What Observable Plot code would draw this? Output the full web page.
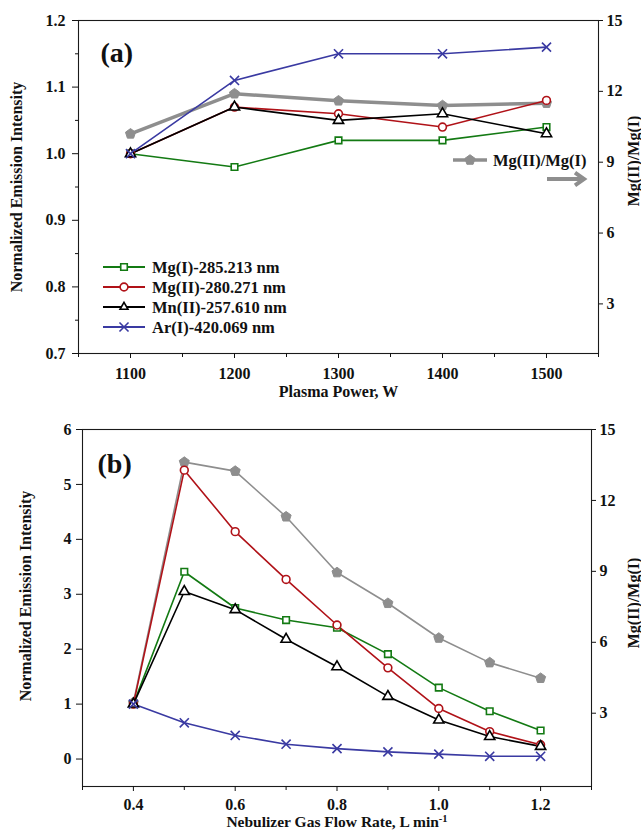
<!DOCTYPE html>
<html><head><meta charset="utf-8">
<script src="https://cdn.jsdelivr.net/npm/d3@7"></script>
<script src="https://cdn.jsdelivr.net/npm/@observablehq/plot@0.6"></script>
<style>
body{margin:0;background:#fff;}
#chart{width:641px;}
#chart svg{display:block;}
</style>
</head><body><div id="chart"></div>
<script>
// ---------- Panel (a): Plasma power ----------
const powers = [1100, 1200, 1300, 1400, 1500];
const aMgI  = [1.00, 0.98, 1.02, 1.02, 1.04];
const aMgII = [1.00, 1.07, 1.06, 1.04, 1.08];
const aMnII = [1.00, 1.07, 1.05, 1.06, 1.03];
const aArI  = [1.00, 1.11, 1.15, 1.15, 1.16];
const aRatio = [10.2, 11.9, 11.6, 11.4, 11.5];
const aXTicks = [1100, 1200, 1300, 1400, 1500];
const aXMinor = [1050, 1150, 1250, 1350, 1450, 1550];
const aYTicks = [0.7, 0.8, 0.9, 1.0, 1.1, 1.2];
const aYMinor = [0.75, 0.85, 0.95, 1.05, 1.15];
const aRTicks = [3, 6, 9, 12, 15];

// ---------- Panel (b): Nebulizer gas flow ----------
const flows = [0.4, 0.5, 0.6, 0.7, 0.8, 0.9, 1.0, 1.1, 1.2];
const bMgI  = [1.00, 3.41, 2.75, 2.53, 2.39, 1.91, 1.30, 0.87, 0.52];
const bMgII = [1.00, 5.26, 4.14, 3.27, 2.44, 1.66, 0.92, 0.50, 0.26];
const bMnII = [1.00, 3.05, 2.72, 2.18, 1.68, 1.14, 0.71, 0.41, 0.23];
const bArI  = [1.00, 0.66, 0.43, 0.27, 0.19, 0.13, 0.09, 0.05, 0.05];
const bRatio = [3.45, 13.62, 13.24, 11.31, 8.95, 7.65, 6.18, 5.14, 4.48];
const bXTicks = [0.4, 0.6, 0.8, 1.0, 1.2];
const bXMinor = [0.3, 0.5, 0.7, 0.9, 1.1, 1.3];
const bYTicks = [0, 1, 2, 3, 4, 5, 6];
const bRTicks = [3, 6, 9, 12, 15];

const seriesNames = ["Mg(I)-285.213 nm", "Mg(II)-280.271 nm", "Mn(II)-257.610 nm", "Ar(I)-420.069 nm"];
const ratioName = "Mg(II)/Mg(I)";
const COLORS = ["#137a13", "#b01218", "#000000", "#3a3aa2"];
const GRAY = "#8e8e8e";
const SYMBOLS = ["square", "circle", "triangle", "times"];
const RADII = [3.7, 3.9, 3.8, 4.2];
const FONT = '"Liberation Serif","Times New Roman",serif';

const pentagon = {
  draw(ctx, size) {
    const R = Math.sqrt(size / 2.378);
    for (let i = 0; i < 5; i++) {
      const a = -Math.PI / 2 + i * 2 * Math.PI / 5;
      const px = R * Math.cos(a), py = R * Math.sin(a);
      if (i === 0) ctx.moveTo(px, py); else ctx.lineTo(px, py);
    }
    ctx.closePath();
  }
};

function makePanel(cfg) {
  const L = cfg.yDomain, R = cfg.rDomain;
  const toLeft = v => L[0] + (v - R[0]) * (L[1] - L[0]) / (R[1] - R[0]);
  const fromLeft = v => R[0] + (v - L[0]) * (R[1] - R[0]) / (L[1] - L[0]);
  const rows = cfg.series.map(arr => cfg.xs.map((x, i) => ({x, y: arr[i]})));
  const ratioRows = cfg.xs.map((x, i) => ({x, y: toLeft(cfg.ratio[i])}));

  const marks = [
    Plot.frame({stroke: "#1a1a1a", strokeWidth: 1.1}),
    Plot.axisX(cfg.xTicks, {tickSize: 5, tickPadding: cfg.xPad, tickFormat: cfg.xFormat, label: null}),
    Plot.axisX(cfg.xMinor, {tickSize: 4, tickFormat: () => "", label: null}),
    Plot.axisY(cfg.yTicks, {tickSize: 6, tickPadding: cfg.yPad, tickFormat: cfg.yFormat, label: null}),
    Plot.axisY(cfg.rTicks.map(toLeft), {anchor: "right", tickSize: 4, tickPadding: 4,
      tickFormat: d => String(Math.round(fromLeft(d))), label: null}),
  ];
  if (cfg.yMinor) marks.push(Plot.axisY(cfg.yMinor, {tickSize: 3, tickFormat: () => "", label: null}));

  // ratio series (right axis), drawn first
  marks.push(Plot.line(ratioRows, {x: "x", y: "y", stroke: GRAY, strokeWidth: cfg.ratioWidth}));
  marks.push(Plot.dot(ratioRows, {x: "x", y: "y", symbol: pentagon, r: 4.6, fill: GRAY, stroke: GRAY, strokeWidth: 1}));

  rows.forEach((r, k) => {
    marks.push(Plot.line(r, {x: "x", y: "y", stroke: COLORS[k], strokeWidth: 1.6}));
  });
  rows.forEach((r, k) => {
    marks.push(Plot.dot(r, {x: "x", y: "y", symbol: SYMBOLS[k], r: RADII[k], stroke: COLORS[k],
      fill: SYMBOLS[k] === "times" ? "none" : "white", strokeWidth: 1.6}));
  });

  // titles
  marks.push(Plot.text([cfg.panelLabel], {frameAnchor: "top-left", dx: cfg.labelDx, dy: cfg.labelDy,
    textAnchor: "start", fontSize: 28, fontWeight: "bold"}));
  marks.push(Plot.text([cfg.yTitle], {frameAnchor: "left", dx: cfg.yTitleDx, dy: cfg.yTitleDy, rotate: -90,
    fontSize: 16, fontWeight: "bold", textAnchor: "middle"}));
  marks.push(Plot.text([ratioName], {frameAnchor: "right", dx: cfg.rTitleDx, dy: cfg.rTitleDy, rotate: -90,
    fontSize: 16, fontWeight: "bold", textAnchor: "middle"}));
  marks.push(Plot.text([cfg.xTitle], {frameAnchor: "bottom", dy: cfg.xTitleDy,
    fontSize: cfg.xTitleSize, fontWeight: "bold", textAnchor: "middle"}));

  const svg = Plot.plot({
    width: 641, height: cfg.height,
    marginLeft: cfg.m[3], marginRight: cfg.m[1], marginTop: cfg.m[0], marginBottom: cfg.m[2],
    x: {domain: cfg.xDomain, label: null},
    y: {domain: L, label: null},
    style: {fontFamily: FONT, fontSize: "16px", fontWeight: "bold", color: "#111", background: "white"},
    marks
  });
  return svg;
}

function drawLegend(svg, leg) {
  const g = d3.select(svg).append("g").attr("font-family", FONT).attr("font-weight", "bold");
  seriesNames.forEach((name, k) => {
    const y = leg.y0 + k * leg.dy;
    g.append("line").attr("x1", leg.x1).attr("x2", leg.x2).attr("y1", y).attr("y2", y)
      .attr("stroke", COLORS[k]).attr("stroke-width", 2);
    const sym = {square: d3.symbolSquare, circle: d3.symbolCircle, triangle: d3.symbolTriangle2, times: d3.symbolTimes}[SYMBOLS[k]];
    g.append("path").attr("d", d3.symbol(sym, Math.PI * RADII[k] * RADII[k])())
      .attr("transform", `translate(${(leg.x1 + leg.x2) / 2},${y})`)
      .attr("stroke", COLORS[k]).attr("stroke-width", 1.6)
      .attr("fill", SYMBOLS[k] === "times" ? "none" : "white");
    g.append("text").attr("x", leg.tx).attr("y", y).attr("dy", "0.35em").attr("text-anchor", "start")
      .attr("font-size", leg.fs).attr("fill", "#111").text(name);
  });
}

function arrow(svg, x1, x2, y, w, head) {
  const g = d3.select(svg).append("g").attr("stroke", GRAY).attr("fill", "none")
    .attr("stroke-width", w).attr("stroke-linecap", "butt");
  g.append("line").attr("x1", x1).attr("x2", x2 - w * 0.4).attr("y1", y).attr("y2", y);
  g.append("path").attr("d", `M${x2 - head},${y - head * 0.7}L${x2},${y}L${x2 - head},${y + head * 0.7}`)
    .attr("stroke-linejoin", "miter");
}

const chart = document.getElementById("chart");

// Panel (a)
const svgA = makePanel({
  xs: powers, series: [aMgI, aMgII, aMnII, aArI], ratio: aRatio,
  height: 400, m: [20, 43, 47, 78],
  xDomain: [1050, 1550], yDomain: [0.7, 1.2], rDomain: [0.9, 15],
  xTicks: aXTicks, xMinor: aXMinor, yTicks: aYTicks, yMinor: aYMinor, rTicks: aRTicks,
  xFormat: d3.format("d"), yFormat: d3.format(".1f"), yPad: 7, xPad: 9,
  ratioWidth: 3.5,
  panelLabel: "(a)", labelDx: 22, labelDy: 22,
  yTitle: "Normalized Emission Intensity", yTitleDx: -62, yTitleDy: 0,
  rTitleDx: 35, rTitleDy: -26,
  xTitle: "Plasma Power, W", xTitleDy: 43, xTitleSize: 16
});
chart.appendChild(svgA);
drawLegend(svgA, {x1: 103, x2: 145, tx: 152, y0: 267, dy: 20, fs: 16.5});
{
  const g = d3.select(svgA).append("g");
  g.append("line").attr("x1", 453).attr("x2", 487).attr("y1", 160).attr("y2", 160)
    .attr("stroke", GRAY).attr("stroke-width", 3.5);
  g.append("path").attr("d", d3.symbol(pentagon, Math.PI * 4.6 * 4.6)())
    .attr("transform", "translate(470,160)").attr("fill", GRAY).attr("stroke", GRAY);
  g.append("text").attr("x", 493).attr("y", 160).attr("dy", "0.35em").attr("font-family", FONT)
    .attr("text-anchor", "start")
    .attr("font-weight", "bold").attr("font-size", 16.5).attr("fill", "#111").text(ratioName);
}
arrow(svgA, 547, 584, 179, 4, 9);

// Panel (b)
const svgB = makePanel({
  xs: flows, series: [bMgI, bMgII, bMnII, bArI], ratio: bRatio,
  height: 437, m: [29, 50, 51, 82],
  xDomain: [0.3, 1.3], yDomain: [-0.5, 6], rDomain: [-0.1, 15],
  xTicks: bXTicks, xMinor: bXMinor, yTicks: bYTicks, yMinor: null, rTicks: bRTicks,
  xFormat: d3.format(".1f"), yFormat: d3.format("d"), yPad: 5, xPad: 7,
  ratioWidth: 1.6,
  panelLabel: "(b)", labelDx: 15, labelDy: 24,
  yTitle: "Normalized Emission Intensity", yTitleDx: -57, yTitleDy: -12,
  rTitleDx: 42, rTitleDy: -5,
  xTitle: "Nebulizer Gas Flow Rate, L min", xTitleDy: 40, xTitleSize: 15.5
});
chart.appendChild(svgB);
drawLegend(svgB, {x1: 371, x2: 410, tx: 417, y0: 457, dy: 20.3, fs: 16.5});
arrow(svgB, 455, 492, 633, 1.6, 9);

// superscript on x title of panel (b)
d3.select(svgB).selectAll("text").filter(function () { return this.textContent === "Nebulizer Gas Flow Rate, L min"; })
  .each(function () {
    d3.select(this).append("tspan").attr("dy", "-0.45em").attr("font-size", 10.5).text("-1");
  });
</script>
</body></html>
